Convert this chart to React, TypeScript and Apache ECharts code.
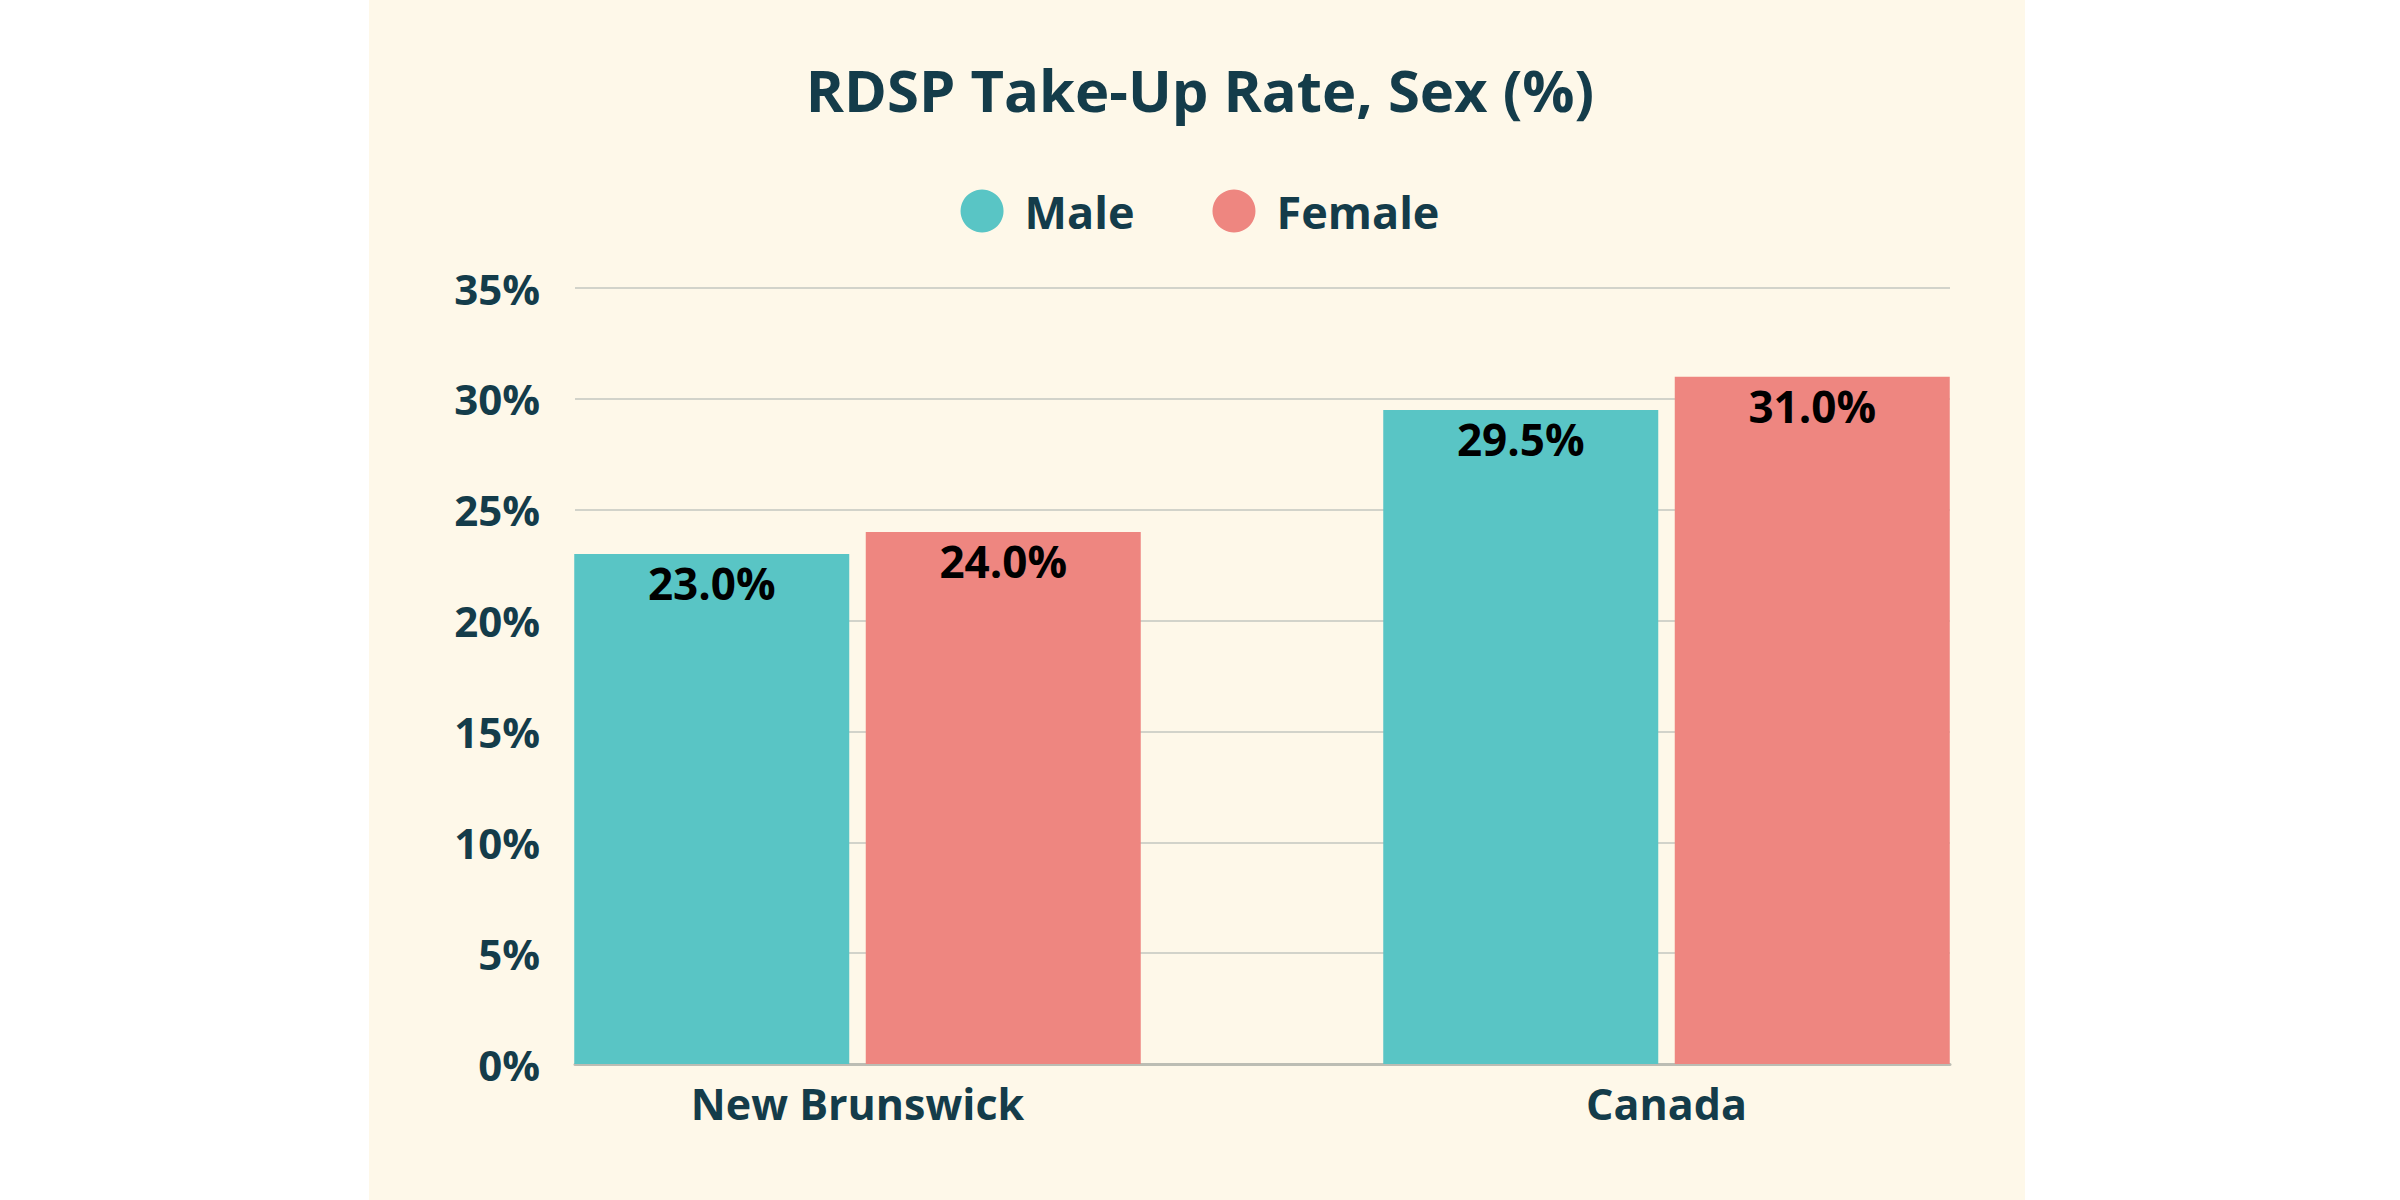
import React, { useEffect, useRef } from "react";
import * as echarts from "echarts";

const categories = ["New Brunswick", "Canada"];
const maleValues = [23.0, 29.5];
const femaleValues = [24.0, 31.0];
const seriesNames = ["Male", "Female"];
const yMin = 0;
const yMax = 35;
const yInterval = 5;

const FONT = "'Open Sans', sans-serif";
const DARK = "#143c4a";

export default function App() {
  const ref = useRef<HTMLDivElement>(null);
  useEffect(() => {
    if (!ref.current) return;
    const chart = echarts.init(ref.current, null, { renderer: "svg" });
    const labelCfg = {
      show: true,
      position: "insideTop",
      distance: 7,
      color: "#000000",
      fontFamily: FONT,
      fontWeight: 700,
      fontSize: 44,
      formatter: (p: any) => Number(p.value).toFixed(1) + "%",
    };
    chart.setOption({
      animation: false,
      backgroundColor: "transparent",
      title: {
        text: "RDSP Take-Up Rate, Sex (%)",
        left: "center",
        top: 55,
        textStyle: { fontFamily: FONT, fontWeight: 700, fontSize: 58, color: DARK },
      },
      legend: {
        top: 181,
        left: "center",
        icon: "circle",
        itemWidth: 43,
        itemHeight: 43,
        itemGap: 78,
        data: seriesNames,
        textStyle: {
          fontFamily: FONT,
          fontWeight: 700,
          fontSize: 45,
          color: DARK,
          lineHeight: 50,
          padding: [0, 0, 0, 16],
        },
      },
      grid: [
        { left: 575, right: 450, top: 288, bottom: 136 },
        { left: 453, right: 329, top: 288, bottom: 136 },
      ],
      xAxis: [
        {
          gridIndex: 0,
          type: "value",
          min: 0,
          max: 1,
          axisLine: { show: true, onZero: false, lineStyle: { color: "#bcbdb4", width: 3 } },
          axisTick: { show: false },
          axisLabel: { show: false },
          splitLine: { show: false },
        },
        {
          gridIndex: 1,
          type: "category",
          data: categories,
          axisLine: { show: false },
          axisTick: { show: false },
          axisLabel: {
            margin: 18,
            fontFamily: FONT,
            fontWeight: 700,
            fontSize: 43,
            color: DARK,
          },
        },
      ],
      yAxis: [
        {
          gridIndex: 0,
          type: "value",
          min: yMin,
          max: yMax,
          interval: yInterval,
          axisLine: { show: false },
          axisTick: { show: false },
          axisLabel: {
            margin: 35,
            formatter: "{value}%",
            fontFamily: FONT,
            fontWeight: 700,
            fontSize: 42,
            color: DARK,
          },
          splitLine: { lineStyle: { color: "#d2d3ca", width: 2 } },
        },
        {
          gridIndex: 1,
          type: "value",
          min: yMin,
          max: yMax,
          interval: yInterval,
          show: false,
          splitLine: { show: false },
        },
      ],
      series: [
        {
          name: seriesNames[0],
          type: "bar",
          xAxisIndex: 1,
          yAxisIndex: 1,
          data: maleValues,
          barWidth: 275,
          barGap: "6%",
          itemStyle: { color: "#59c5c5" },
          label: labelCfg,
        },
        {
          name: seriesNames[1],
          type: "bar",
          xAxisIndex: 1,
          yAxisIndex: 1,
          data: femaleValues,
          barWidth: 275,
          barGap: "6%",
          itemStyle: { color: "#ee8680" },
          label: labelCfg,
        },
      ],
    });
    return () => chart.dispose();
  }, []);
  return (
    <div
      style={{
        position: "absolute",
        left: 0,
        top: 0,
        width: 2400,
        height: 1200,
        background:
          "linear-gradient(to right, #ffffff 0px, #ffffff 369px, #fef8e9 369px, #fef8e9 2025px, #ffffff 2025px)",
      }}
    >
      <div ref={ref} style={{ width: 2400, height: 1200 }} />
    </div>
  );
}
